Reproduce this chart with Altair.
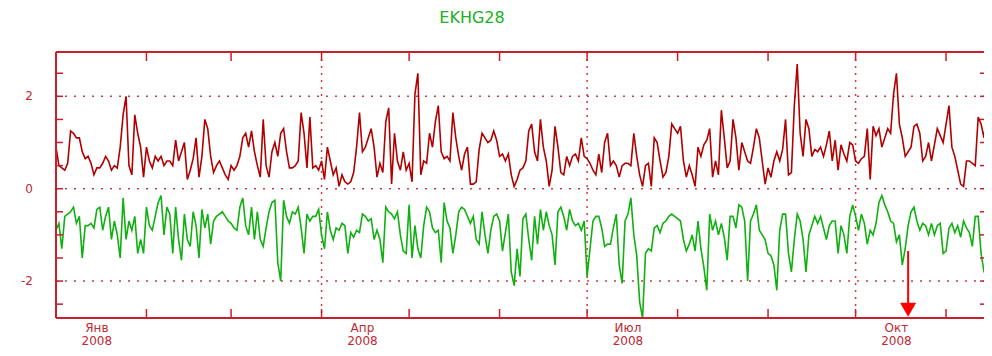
import altair as alt
import pandas as pd

# ---------------- data ----------------
start_date = "2008-01-01"

red_vals = [
    0.9, 0.5, 0.45, 0.4, 0.55, 1.25, 1.2, 1.1, 1.1, 0.8,
    0.65, 0.7, 0.55, 0.3, 0.45, 0.45, 0.55, 0.7, 0.6, 0.4,
    0.5, 0.45, 0.9, 1.6, 2.0, 0.5, 0.3, 1.6, 1.2, 0.9,
    0.25, 0.9, 0.6, 0.45, 0.7, 0.6, 0.7, 0.5, 0.6, 0.6,
    0.5, 1.05, 0.6, 0.8, 1.0, 0.2, 0.4, 0.65, 1.1, 0.25,
    0.7, 1.5, 1.3, 0.7, 0.35, 0.5, 0.6, 0.45, 0.3, 0.2,
    0.5, 0.4, 0.5, 0.7, 1.1, 1.2, 0.9, 1.25, 0.8, 0.5,
    0.25, 1.5, 0.5, 0.25, 0.8, 1.0, 0.7, 1.2, 1.3, 0.8,
    0.45, 0.45, 0.5, 0.6, 1.65, 1.2, 0.45, 1.55, 0.45, 0.5,
    0.4, 0.6, 0.2, 0.9, 0.6, 0.3, 0.45, 0.05, 0.3, 0.15,
    0.1, 0.15, 0.35, 0.9, 1.65, 0.8, 0.9, 1.1, 1.3, 0.9,
    0.25, 0.55, 0.35, 1.45, 1.75, 0.1, 1.2, 0.6, 0.4, 0.8,
    0.4, 0.55, 0.15, 2.05, 2.5, 0.3, 0.6, 0.55, 1.2, 0.9,
    1.45, 1.8, 0.8, 0.65, 0.7, 0.6, 1.65, 1.1, 0.7, 0.4,
    0.75, 0.9, 0.1, 0.1, 0.15, 0.85, 1.2, 1.1, 1.0, 1.05,
    1.25, 1.05, 0.7, 0.75, 0.6, 0.75, 0.3, 0.05, 0.2, 0.4,
    0.45, 0.6, 1.25, 1.4, 0.8, 0.6, 1.5, 0.9, 0.6, 0.05,
    0.4, 1.35, 0.9, 0.35, 0.3, 0.7, 0.5, 0.7, 0.75, 0.6,
    1.1, 0.7, 0.65, 0.55, 0.4, 0.3, 0.75, 0.35, 1.0, 1.2,
    0.5, 0.6, 0.5, 0.25, 0.5, 0.55, 0.55, 0.5, 1.2, 0.7,
    0.3, 0.05, 0.5, 0.55, 0.05, 1.1, 1.0, 0.6, 0.25, 0.35,
    0.7, 1.4, 1.3, 1.2, 1.35, 0.6, 0.25, 0.5, 0.3, 0.05,
    0.9, 0.7, 0.95, 1.05, 1.3, 0.25, 0.6, 0.3, 1.7, 1.1,
    0.45, 0.6, 1.5, 1.1, 0.4, 1.0, 0.8, 0.6, 0.55, 0.9,
    1.3, 1.1, 0.6, 0.1, 0.45, 0.25, 0.6, 0.8, 0.6, 0.85,
    1.5, 0.3, 0.35, 1.8, 2.7, 1.2, 0.7, 1.5, 1.3, 0.7,
    0.85, 0.8, 0.9, 0.7, 0.95, 1.25, 0.6, 1.05, 0.4, 0.95,
    0.75, 0.6, 1.0, 0.95, 0.6, 0.55, 0.65, 0.7, 1.3, 0.2,
    1.35, 1.15, 1.3, 0.9, 1.1, 1.3, 1.2, 2.05, 2.5, 1.4,
    1.1, 0.7, 0.8, 0.9, 1.35, 1.4, 1.2, 0.6, 0.7, 1.0,
    0.6, 0.95, 1.3, 1.15, 1.0, 1.4, 1.8, 0.9, 0.7, 0.4,
    0.1, 0.05, 0.6, 0.6, 0.55, 0.5, 1.55, 1.4, 1.1, 1.7, 0.45,
]

green_vals = [
    -0.9, -0.75, -1.3, -0.6, -0.55, -0.5, -0.4, -0.75, -0.6, -1.5,
    -0.8, -0.8, -0.75, -0.85, -0.45, -0.4, -0.9, -0.6, -0.4, -1.1,
    -0.7, -1.0, -1.5, -0.2, -1.1, -0.7, -0.9, -0.6, -1.4, -1.1,
    -1.4, -0.4, -0.8, -0.9, -0.6, -0.3, -0.15, -1.0, -0.4, -0.55,
    -1.4, -0.4, -1.1, -1.55, -0.55, -1.1, -1.25, -0.5, -0.8, -1.5,
    -0.45, -0.85, -0.55, -1.2, -0.7, -0.6, -0.55, -0.5, -0.6, -0.7,
    -0.75, -0.85, -0.9, -0.4, -0.2, -0.8, -1.0, -0.4, -1.1, -0.5,
    -1.1, -1.25, -0.85, -0.5, -0.3, -0.25, -1.6, -2.0, -0.25, -0.6,
    -0.75, -0.5, -0.55, -0.4, -0.85, -1.4, -0.55, -0.7, -0.6, -0.6,
    -0.45, -1.0, -1.3, -0.5, -0.9, -1.1, -0.85, -0.9, -0.75, -0.8,
    -1.4, -0.95, -1.05, -0.9, -0.95, -0.55, -0.6, -0.7, -0.65, -1.1,
    -0.9, -1.1, -1.6, -0.4, -0.5, -0.55, -0.65, -0.5, -1.0, -1.35,
    -1.4, -0.35, -1.5, -0.8, -1.3, -1.5, -0.8, -0.4, -0.5, -0.85,
    -0.95, -0.9, -1.6, -0.3, -0.7, -0.85, -1.4, -1.0, -0.5, -0.4,
    -0.45, -0.6, -0.75, -0.6, -1.1, -1.2, -0.5, -1.0, -1.4, -0.9,
    -0.6, -0.55, -0.7, -1.35, -0.95, -0.55, -1.8, -2.1, -1.3, -1.9,
    -0.65, -0.55, -1.1, -1.55, -0.6, -1.2, -0.45, -0.9, -0.5, -0.8,
    -1.0, -1.65, -0.5, -0.4, -0.6, -0.9, -0.45, -0.7, -0.8, -0.75,
    -0.9, -0.7, -1.9, -1.3, -0.7, -0.6, -0.6, -0.85, -1.25, -1.2,
    -1.2, -0.85, -0.55, -1.65, -2.05, -0.7, -0.55, -0.2, -1.0, -1.45,
    -2.45, -2.8, -1.4, -1.3, -1.35, -0.85, -0.8, -0.95, -0.75, -0.7,
    -0.6, -0.55, -0.6, -0.65, -0.7, -1.1, -1.35, -1.2, -1.0, -1.35,
    -0.7, -1.3, -1.7, -2.2, -0.55, -0.9, -0.7, -1.0, -0.75, -1.05,
    -1.55, -0.6, -0.6, -0.85, -0.35, -0.4, -0.7, -2.0, -0.7, -0.55,
    -0.35, -0.9, -1.0, -1.1, -1.4, -1.45, -1.65, -2.2, -0.9, -0.55,
    -0.55, -1.4, -1.8, -1.1, -0.55, -0.7, -1.1, -1.8, -1.0, -0.8,
    -0.6, -0.75, -0.6, -0.85, -1.1, -0.8, -0.7, -0.7, -1.4, -0.8,
    -1.0, -1.4, -0.6, -0.35, -0.6, -0.9, -0.55, -0.75, -1.2, -0.9,
    -1.0, -0.75, -0.3, -0.15, -0.35, -0.5, -0.7, -0.75, -1.15, -1.0,
    -1.65, -1.3, -0.8, -0.5, -0.4, -0.7, -0.9, -0.75, -0.8, -1.0,
    -0.75, -1.0, -0.8, -0.75, -1.4, -1.35, -0.85, -0.75, -0.95, -0.8,
    -1.05, -0.7, -0.85, -0.95, -1.25, -0.6, -0.6, -1.4, -1.8, -1.8, -1.8,
]

month_ticks = ["2008-02-01", "2008-03-01", "2008-04-01", "2008-05-01", "2008-06-01",
               "2008-07-01", "2008-08-01", "2008-09-01", "2008-10-01", "2008-11-01"]
quarter_lines = ["2008-04-01", "2008-07-01", "2008-10-01"]
label_dates = ["2008-01-15", "2008-04-15", "2008-07-15", "2008-10-15"]
label_months = ["Янв", "Апр", "Июл", "Окт"]
label_years = ["2008", "2008", "2008", "2008"]
y_grid = [2, 0, -2]
y_label_text = ["2", "0", "-2"]
y_ticks = [2.5, 2, 1.5, 1, 0.5, 0, -0.5, -1, -1.5, -2, -2.5]
arrow_date = ["2008-10-19"]
arrow_top = [-1.35]
arrow_head = [-2.62]
title_text = "EKHG28"

# ---------------- styling ----------------
W, H = 928, 266
RED_LINE = "#b00000"
GREEN_LINE = "#10b010"
FRAME = "#c8202a"
GRID = "#d03a3a"
LABEL = "#c02832"
ARROW = "#ff0000"
TITLE_C = "#20b020"
FONT = "DejaVu Sans"

dates = pd.date_range(start_date, periods=len(red_vals), freq="D").strftime("%Y-%m-%d")
line_df = pd.concat([
    pd.DataFrame({"date": dates, "value": red_vals, "series": "a"}),
    pd.DataFrame({"date": dates, "value": green_vals, "series": "b"}),
])

xs = alt.Scale(type="utc", domain=[alt.DateTime(year=2008, month=1, date=1, utc=True),
                                   alt.DateTime(year=2008, month=11, date=14, utc=True)])
ys = alt.Scale(domain=[-2.8, 2.96], nice=False, zero=False)

def X(f):
    return alt.X(f, type="temporal", scale=xs, axis=None)

def Y(f):
    return alt.Y(f, type="quantitative", scale=ys, axis=None)

one = pd.DataFrame({"k": [0]})

hgrid = alt.Chart(pd.DataFrame({"v": y_grid})).mark_rule(
    color=GRID, strokeDash=[2, 7], strokeWidth=1.5).encode(
    y=Y("v"), x=alt.value(0), x2=alt.value(W))
vgrid = alt.Chart(pd.DataFrame({"d": quarter_lines})).mark_rule(
    color=GRID, strokeDash=[2, 5], strokeWidth=1.5).encode(
    x=X("d"), y=alt.value(0), y2=alt.value(H))

lines = alt.Chart(line_df).mark_line(strokeWidth=1.6, clip=True).encode(
    x=X("date"), y=Y("value"),
    color=alt.Color("series:N", scale=alt.Scale(domain=["a", "b"], range=[RED_LINE, GREEN_LINE]),
                    legend=None))

frame_left = alt.Chart(one).mark_rule(color=FRAME, strokeWidth=2).encode(
    x=alt.value(0), y=alt.value(0), y2=alt.value(H))
frame_top = alt.Chart(one).mark_rule(color=FRAME, strokeWidth=2).encode(
    x=alt.value(0), x2=alt.value(W), y=alt.value(0))
frame_bottom = alt.Chart(one).mark_rule(color=FRAME, strokeWidth=2).encode(
    x=alt.value(0), x2=alt.value(W), y=alt.value(H))

left_ticks = alt.Chart(pd.DataFrame({"v": y_ticks})).mark_rule(color=FRAME, strokeWidth=1.5).encode(
    y=Y("v"), x=alt.value(0), x2=alt.value(7))
right_ticks = alt.Chart(pd.DataFrame({"v": y_ticks})).mark_rule(color=FRAME, strokeWidth=1.5).encode(
    y=Y("v"), x=alt.value(W - 4), x2=alt.value(W))
top_ticks = alt.Chart(pd.DataFrame({"d": month_ticks})).mark_rule(color=FRAME, strokeWidth=1.5).encode(
    x=X("d"), y=alt.value(0), y2=alt.value(9))
bottom_ticks = alt.Chart(pd.DataFrame({"d": month_ticks})).mark_rule(color=FRAME, strokeWidth=1.5).encode(
    x=X("d"), y=alt.value(H), y2=alt.value(H - 9))

ylab = alt.Chart(pd.DataFrame({"v": y_grid, "t": y_label_text})).mark_text(
    align="right", baseline="middle", font=FONT, fontSize=12, color=LABEL).encode(
    y=Y("v"), x=alt.value(-23), text="t:N")

lab_df = pd.DataFrame({"d": label_dates, "m": label_months, "yr": label_years})
xlab_m = alt.Chart(lab_df).mark_text(
    align="center", baseline="middle", font=FONT, fontSize=12, color=LABEL).encode(
    x=X("d"), y=alt.value(H + 10), text="m:N")
xlab_y = alt.Chart(lab_df).mark_text(
    align="center", baseline="middle", font=FONT, fontSize=12, color=LABEL).encode(
    x=X("d"), y=alt.value(H + 23), text="yr:N")

arrow_df = pd.DataFrame({"d": arrow_date, "top": arrow_top, "head": arrow_head})
arrow_line = alt.Chart(arrow_df).mark_rule(color=ARROW, strokeWidth=2).encode(
    x=X("d"), y=Y("top"), y2=alt.value(H - 8))
arrow_tip = alt.Chart(arrow_df).mark_point(
    shape="triangle-down", filled=True, size=260, color=ARROW, opacity=1).encode(
    x=X("d"), y=Y("head"))

title = alt.Chart(pd.DataFrame({"t": [title_text]})).mark_text(
    align="center", baseline="middle", font=FONT, fontSize=16, color=TITLE_C).encode(
    x=alt.value(416), y=alt.value(-34), text="t:N")

chart = alt.layer(
    hgrid, vgrid, lines, frame_left, frame_top, frame_bottom,
    left_ticks, right_ticks, top_ticks, bottom_ticks, ylab, xlab_m, xlab_y,
    arrow_line, arrow_tip, title,
).properties(
    width=W, height=H,
    autosize=alt.AutoSizeParams(type="none"),
    padding={"left": 48, "top": 44, "right": 0, "bottom": 30},
    background="white",
).configure_view(stroke=None)

chart.save("out.html", embed_options={"renderer": "svg", "actions": False})
